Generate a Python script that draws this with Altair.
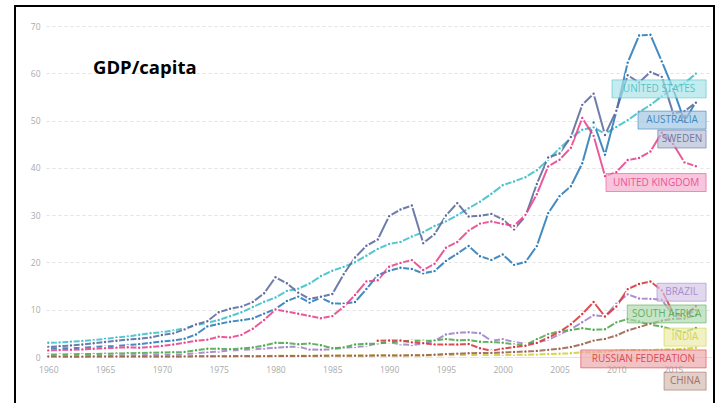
import altair as alt
import pandas as pd

years = list(range(1960, 2018))

united_states = [3.01, 3.07, 3.24, 3.37, 3.57, 3.83, 4.15, 4.33, 4.70, 5.03,
                 5.23, 5.61, 6.09, 6.73, 7.24, 7.82, 8.61, 9.45, 10.56, 11.67,
                 12.58, 13.98, 14.43, 15.54, 17.12, 18.24, 19.07, 20.04, 21.42, 22.86,
                 23.89, 24.34, 25.47, 26.39, 27.69, 28.69, 29.97, 31.46, 32.85, 34.51,
                 36.33, 37.13, 38.02, 39.50, 41.71, 44.12, 46.30, 48.05, 48.57, 47.19,
                 48.65, 50.07, 51.78, 53.29, 55.12, 56.76, 57.87, 59.93]
australia = [1.81, 1.87, 1.85, 1.96, 2.13, 2.28, 2.34, 2.56, 2.71, 2.99,
             3.30, 3.49, 3.87, 4.77, 6.47, 7.00, 7.48, 7.77, 8.15, 9.18,
             10.19, 11.83, 12.79, 11.53, 12.51, 11.38, 11.27, 11.64, 14.37, 17.30,
             18.25, 18.86, 18.62, 17.69, 18.17, 20.32, 21.85, 23.47, 21.32, 20.53,
             21.68, 19.49, 20.08, 23.45, 30.43, 34.02, 36.12, 40.96, 49.60, 42.77,
             51.94, 62.25, 67.99, 68.15, 62.51, 56.71, 49.88, 53.93]
sweden = [2.11, 2.28, 2.45, 2.65, 2.91, 3.18, 3.43, 3.68, 3.85, 4.14,
          4.66, 5.00, 5.84, 6.89, 7.57, 9.45, 10.19, 10.66, 11.62, 13.48,
          16.86, 15.59, 13.61, 12.30, 12.74, 13.31, 17.49, 21.03, 23.52, 24.86,
          29.79, 31.19, 32.05, 24.08, 25.95, 29.92, 32.54, 29.70, 29.86, 30.26,
          29.12, 26.98, 29.76, 36.60, 42.20, 43.05, 46.51, 53.32, 55.69, 46.95,
          52.08, 59.59, 58.04, 60.28, 59.25, 51.55, 51.97, 53.79]
united_kingdom = [1.40, 1.47, 1.53, 1.61, 1.75, 1.87, 1.98, 2.06, 1.95, 2.10,
                  2.35, 2.65, 3.03, 3.43, 3.67, 4.30, 4.14, 4.68, 5.98, 7.81,
                  10.03, 9.60, 9.15, 8.69, 8.18, 8.65, 10.61, 13.12, 15.99, 16.24,
                  19.10, 19.90, 20.49, 18.39, 19.71, 23.12, 24.33, 26.73, 28.21, 28.67,
                  28.15, 27.74, 30.06, 34.42, 40.29, 41.73, 44.25, 50.57, 46.77, 38.26,
                  39.08, 41.65, 42.09, 43.45, 47.44, 45.07, 41.15, 40.36]
brazil = [0.21, 0.20, 0.26, 0.29, 0.26, 0.26, 0.32, 0.35, 0.37, 0.41,
          0.45, 0.50, 0.59, 0.79, 1.02, 1.17, 1.38, 1.50, 1.64, 1.80,
          1.94, 2.12, 2.22, 1.56, 1.55, 1.64, 1.94, 2.09, 2.30, 2.91,
          3.09, 2.68, 2.53, 2.79, 3.43, 4.75, 5.11, 5.23, 5.03, 3.43,
          3.74, 3.16, 2.83, 3.07, 3.64, 4.79, 5.89, 7.35, 8.83, 8.60,
          11.29, 13.25, 12.37, 12.30, 12.11, 8.81, 8.71, 9.88]
south_africa = [0.53, 0.54, 0.56, 0.61, 0.66, 0.70, 0.74, 0.80, 0.84, 0.92,
                0.95, 1.03, 1.07, 1.44, 1.75, 1.76, 1.65, 1.80, 2.02, 2.43,
                3.02, 2.98, 2.71, 2.88, 2.47, 1.85, 2.03, 2.65, 2.81, 2.88,
                3.14, 3.26, 3.48, 3.45, 3.50, 3.79, 3.54, 3.58, 3.24, 3.19,
                3.03, 2.67, 2.49, 3.74, 4.83, 5.44, 5.70, 6.10, 5.76, 5.86,
                7.33, 8.01, 7.50, 6.83, 6.43, 5.74, 5.27, 6.13]
india = [0.08, 0.09, 0.09, 0.10, 0.12, 0.12, 0.09, 0.10, 0.10, 0.11,
         0.11, 0.12, 0.12, 0.14, 0.16, 0.16, 0.16, 0.19, 0.21, 0.22,
         0.27, 0.27, 0.27, 0.29, 0.28, 0.30, 0.31, 0.34, 0.35, 0.35,
         0.37, 0.30, 0.32, 0.30, 0.35, 0.37, 0.40, 0.42, 0.41, 0.44,
         0.44, 0.45, 0.47, 0.55, 0.63, 0.71, 0.81, 1.03, 1.00, 1.10,
         1.36, 1.46, 1.44, 1.45, 1.57, 1.61, 1.73, 1.98]
russian_federation = [None] * 29 + [
    3.43, 3.49, 3.49, 3.10, 2.93, 2.66, 2.67, 2.64, 2.74, 1.84,
    1.33, 1.77, 2.10, 2.38, 2.98, 4.10, 5.32, 6.92, 9.10, 11.64,
    8.56, 10.68, 14.35, 15.43, 15.97, 14.10, 9.31, 8.70, 10.72][:29]
china = [0.09, 0.08, 0.07, 0.07, 0.09, 0.10, 0.10, 0.10, 0.09, 0.10,
         0.11, 0.12, 0.13, 0.16, 0.16, 0.18, 0.17, 0.19, 0.16, 0.18,
         0.19, 0.20, 0.20, 0.23, 0.25, 0.29, 0.28, 0.25, 0.28, 0.31,
         0.32, 0.33, 0.37, 0.38, 0.47, 0.61, 0.71, 0.78, 0.83, 0.87,
         0.96, 1.05, 1.15, 1.29, 1.51, 1.75, 2.10, 2.69, 3.47, 3.83,
         4.55, 5.62, 6.32, 7.05, 7.68, 8.07, 8.15, 8.88]

countries = ["UNITED STATES", "AUSTRALIA", "SWEDEN", "UNITED KINGDOM", "BRAZIL",
             "SOUTH AFRICA", "INDIA", "RUSSIAN FEDERATION", "CHINA"]
series = [united_states, australia, sweden, united_kingdom, brazil,
          south_africa, india, russian_federation, china]
colors = ["#3cbfca", "#2a7bb8", "#5a6a9e", "#e8428b", "#a07fc8",
          "#4ca84c", "#cfcf3a", "#d8363c", "#9a6250"]

# label annotation layout (data-space centre of each tag, and tag left edge year)
label_y = [56.7, 50.1, 46.1, 36.9, 13.7, 9.1, 4.2, -0.4, -5.1]
label_left = [2009.62, 2011.91, 2013.65, 2009.09, 2013.58, 2010.96, 2014.2, 2006.87, 2014.2]
label_right = 2017.9

rows = []
for name, vals in zip(countries, series):
    for yr, v in zip(years, vals):
        if v is not None:
            rows.append({"country": name, "year": yr, "gdp": v})
df = pd.DataFrame(rows)

lab = pd.DataFrame({"country": countries, "yc": label_y, "left": label_left})
lab["right"] = label_right
lab["y0"] = lab["yc"] - 1.9
lab["y1"] = lab["yc"] + 1.9
lab["xc"] = (lab["left"] + lab["right"]) / 2

xscale = alt.Scale(domain=[1959.8, 2018.42], nice=False, zero=False)
yscale = alt.Scale(domain=[0, 70], nice=False)
cscale = alt.Scale(domain=countries, range=colors)

x_axis = alt.Axis(values=list(range(1960, 2020, 5)), format="d", grid=False, ticks=False,
                  domain=True, domainColor="#e4e4e4", domainWidth=1,
                  labelColor="#aaaaaa", labelFontSize=8.5, labelFont="Open Sans",
                  labelPadding=8, title=None)
y_axis = alt.Axis(values=list(range(0, 80, 10)), grid=True, gridDash=[3, 3],
                  gridColor="#e2e2e2", ticks=False, domain=False,
                  labelColor="#aaaaaa", labelFontSize=8.5, labelFont="Open Sans",
                  labelPadding=6, title=None)

lines = alt.Chart(df).mark_line(
    strokeWidth=2, opacity=0.88,
    point=alt.OverlayMarkDef(filled=True, size=16, stroke="white", strokeWidth=1.6, opacity=1)
).encode(
    x=alt.X("year:Q", scale=xscale, axis=x_axis),
    y=alt.Y("gdp:Q", scale=yscale, axis=y_axis),
    color=alt.Color("country:N", scale=cscale, legend=None),
)

underlay = alt.Chart(lab).mark_rect(fill="white", fillOpacity=0.55).encode(
    x=alt.X("left:Q", scale=xscale),
    x2="right:Q",
    y=alt.Y("y0:Q", scale=yscale),
    y2="y1:Q",
)

boxes = alt.Chart(lab).mark_rect(fillOpacity=0.3, strokeOpacity=0.55, strokeWidth=1).encode(
    x=alt.X("left:Q", scale=xscale),
    x2="right:Q",
    y=alt.Y("y0:Q", scale=yscale),
    y2="y1:Q",
    fill=alt.Color("country:N", scale=cscale, legend=None),
    stroke=alt.Color("country:N", scale=cscale, legend=None),
)

texts = alt.Chart(lab).mark_text(font="Open Sans", fontSize=10, align="center",
                                 baseline="middle", opacity=0.85).encode(
    x=alt.X("xc:Q", scale=xscale),
    y=alt.Y("yc:Q", scale=yscale),
    text="country:N",
    color=alt.Color("country:N", scale=cscale, legend=None),
)

title = alt.Chart(pd.DataFrame({"t": ["GDP/capita"]})).mark_text(
    font="Open Sans", fontSize=18.5, fontWeight="bold", align="left",
    baseline="middle", color="black"
).encode(x=alt.value(47), y=alt.value(42), text="t:N")

frame = alt.Chart(pd.DataFrame({"a": [0]})).mark_rect(
    fillOpacity=0, stroke="black", strokeWidth=2
).encode(x=alt.value(-31), x2=alt.value(668), y=alt.value(-20), y2=alt.value(440))

chart = alt.layer(lines, underlay, boxes, texts, title, frame).properties(
    width=666, height=331,
    autosize=alt.AutoSizeParams(type="none"),
    padding={"left": 46, "top": 26, "right": 9, "bottom": 46},
    background="white",
).configure_view(stroke=None)

chart.save("out.html", embed_options={"renderer": "svg", "actions": False})
